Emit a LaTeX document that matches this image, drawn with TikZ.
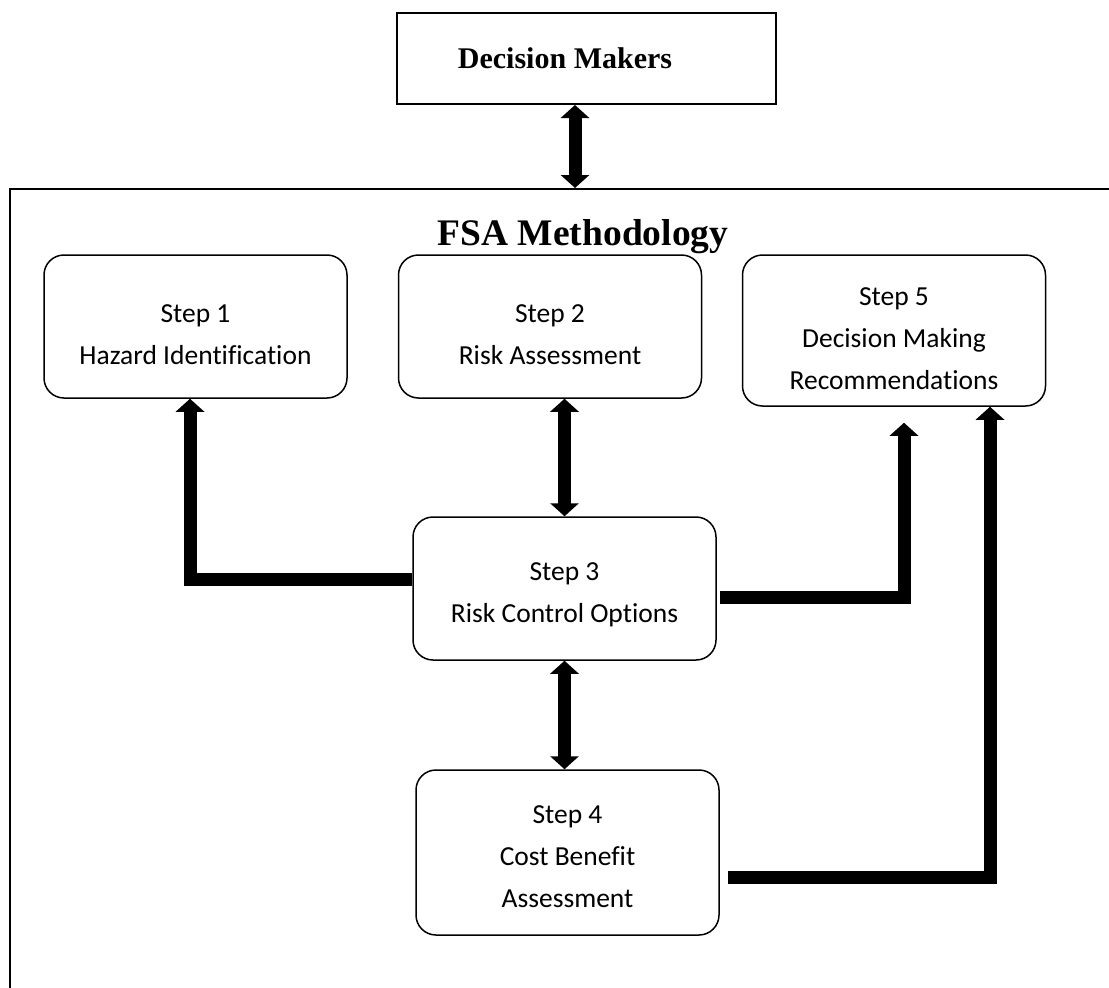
\documentclass[tikz,border=0pt]{standalone}
\usepackage{fontspec}
\setmainfont{Liberation Serif}
\newfontfamily\stepfont[Ligatures=NoCommon]{Carlito}
\usetikzlibrary{arrows.meta, positioning}

\tikzset{
  stepbox/.style={draw, rectangle, rounded corners=20pt, line width=1.5pt, inner sep=0pt, align=center,
    minimum width=303pt, font=\stepfont\fontsize{27.5}{42}\selectfont},
  head/.tip={Triangle[width=28pt, length=13pt]},
  flow/.style={line width=13pt, line join=miter, -head},
  twoway/.style={line width=13pt, head-head}
}

\begin{document}
\begin{tikzpicture}[x=1pt, y=-1pt]
  \clip (0,0) rectangle (1109,988);
  % Top box and the frame round the method
  \node[draw, rectangle, line width=2pt, minimum width=379pt, minimum height=91pt,
    font=\bfseries\fontsize{30}{34}\selectfont] (makers) at (586.5,58.5) {Decision Makers\hspace*{43pt}};
  \node[draw, rectangle, line width=2pt, inner sep=0pt, minimum width=1130pt, minimum height=840pt] (frame) at (575,609) {};
  \node[font=\bfseries\fontsize{37.5}{41}\selectfont] (fsa) at (583,237) {FSA Methodology};
  % The five steps
  \node[stepbox, minimum height=143pt, text height=76pt] (hazard) at (195.5,326.5) {Step 1\\Hazard Identification};
  \node[stepbox, minimum height=143pt, text height=76pt] (risk) at (550,326.5) {Step 2\\Risk Assessment};
  \node[stepbox, minimum height=151pt, text height=118pt] (decision) at (894,330.5) {Step 5\\Decision Making\\Recommendations};
  \node[stepbox, minimum height=143pt, text height=72pt] (control) at (564.5,588.5) {Step 3\\Risk Control Options};
  \node[stepbox, minimum height=165pt, text height=110pt] (cost) at (567.5,852.5) {Step 4\\Cost Benefit\\Assessment};
  % Arrows
  \draw[twoway] (frame.north) -- (frame.north |- makers.south);
  \draw[twoway] (control.north) -- (control.north |- risk.south);
  \draw[twoway] (control.south) -- (control.south |- cost.north);
  \draw[flow] ([yshift=9.5pt]control.west) -| ([xshift=-5.5pt]hazard.south);
  \draw[flow] ([xshift=3pt,yshift=-8.5pt]control.east) -| ([xshift=10pt,yshift=-16pt]decision.south);
  \draw[flow] ([xshift=8pt,yshift=-24.5pt]cost.east) -| ([xshift=96pt]decision.south);
\end{tikzpicture}
\end{document}
